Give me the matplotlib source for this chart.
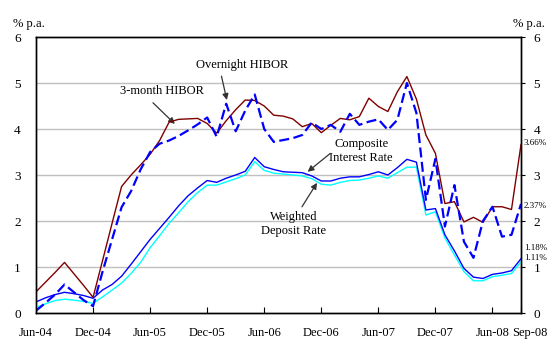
import matplotlib
matplotlib.use("Agg")
import matplotlib.pyplot as plt
import matplotlib.transforms as mtransforms
import numpy as np

months = ["Jun-04","Jul-04","Aug-04","Sep-04","Oct-04","Nov-04","Dec-04",
          "Jan-05","Feb-05","Mar-05","Apr-05","May-05","Jun-05","Jul-05","Aug-05","Sep-05","Oct-05","Nov-05","Dec-05",
          "Jan-06","Feb-06","Mar-06","Apr-06","May-06","Jun-06","Jul-06","Aug-06","Sep-06","Oct-06","Nov-06","Dec-06",
          "Jan-07","Feb-07","Mar-07","Apr-07","May-07","Jun-07","Jul-07","Aug-07","Sep-07","Oct-07","Nov-07","Dec-07",
          "Jan-08","Feb-08","Mar-08","Apr-08","May-08","Jun-08","Jul-08","Aug-08","Sep-08"]

hibor_3m = [0.46,0.67,0.88,1.10,0.85,0.60,0.34,
            1.14,1.95,2.75,3.00,3.22,3.45,3.75,4.15,4.21,4.22,4.23,4.12,
            3.91,4.18,4.42,4.63,4.62,4.50,4.30,4.28,4.22,4.05,4.12,3.92,
            4.08,4.23,4.20,4.27,4.67,4.49,4.38,4.81,5.14,4.65,3.87,3.47,
            2.38,2.42,1.98,2.08,1.97,2.31,2.31,2.25,3.66]

hibor_on = [0.05,0.22,0.40,0.62,0.45,0.28,0.15,
            0.90,1.60,2.30,2.65,3.12,3.50,3.68,3.75,3.85,3.97,4.10,4.25,
            3.83,4.55,3.95,4.40,4.75,4.00,3.72,3.76,3.80,3.87,4.14,4.00,
            4.09,3.94,4.33,4.09,4.16,4.21,3.98,4.20,5.00,4.35,2.46,3.35,
            1.88,2.78,1.55,1.20,2.00,2.31,1.66,1.70,2.37]

composite = [0.24,0.33,0.40,0.45,0.42,0.38,0.32,
             0.50,0.62,0.80,1.06,1.33,1.60,1.84,2.08,2.33,2.55,2.72,2.88,
             2.84,2.93,3.00,3.08,3.38,3.18,3.12,3.07,3.06,3.05,2.98,2.87,
             2.87,2.93,2.96,2.96,3.01,3.07,3.00,3.16,3.34,3.28,2.24,2.27,
             1.70,1.35,0.97,0.78,0.75,0.84,0.87,0.92,1.18]

deposit = [0.12,0.20,0.27,0.30,0.28,0.25,0.21,
           0.35,0.50,0.65,0.86,1.10,1.42,1.68,1.95,2.18,2.42,2.62,2.78,
           2.78,2.85,2.92,3.00,3.29,3.10,3.04,3.02,3.00,2.98,2.92,2.80,
           2.78,2.84,2.88,2.89,2.93,2.98,2.93,3.05,3.17,3.17,2.13,2.20,
           1.63,1.26,0.90,0.70,0.70,0.79,0.82,0.86,1.11]

tick_labels = ["Jun-04","Dec-04","Jun-05","Dec-05","Jun-06","Dec-06","Jun-07","Dec-07","Jun-08","Sep-08"]
end_labels = ["3.66%", "2.37%", "1.18%", "1.11%"]
end_label_y = [3.69, 2.33, 1.42, 1.19]

x = np.arange(len(months))
tick_pos = [months.index(t) for t in tick_labels]

plt.rcParams['font.family'] = ['Liberation Serif', 'DejaVu Serif']

fig = plt.figure(figsize=(5.6, 3.49), dpi=100)
ax = fig.add_axes([36/560, 1-313/349, (521-36)/560, (313-37)/349])

ax.plot(x, deposit, color='#00FFFF', lw=1.0, zorder=3)
ax.plot(x, composite, color='#0000FF', lw=1.0, zorder=4)
ax.plot(x, hibor_3m, color='#800000', lw=1.0, zorder=5)
ax.plot(x, hibor_on, color='#0000FF', lw=1.6, dashes=(4.5, 2), zorder=6)

ax.set_xlim(0, len(months)-1)
ax.set_ylim(0, 6)
ax.set_yticks(range(0, 7))
ax.set_yticklabels([str(v) for v in range(0, 7)])
for yv in range(1, 6):
    ax.axhline(yv, color='#C0C0C0', lw=1.0, zorder=1)

ax.set_xticks(tick_pos)
ax.set_xticklabels(tick_labels[:-1] + [""])
ax.tick_params(axis='x', direction='in', length=4, pad=10, labelsize=9)
ax.tick_params(axis='y', direction='in', length=0, pad=11, labelsize=9.5)
for sp in ax.spines.values():
    sp.set_linewidth(1.0)

# last x label, nudged right as in the reference
lab_tr = ax.get_xaxis_transform() + mtransforms.ScaledTranslation(9/100, -10/72, fig.dpi_scale_trans)
ax.text(tick_pos[-1], 0, tick_labels[-1], transform=lab_tr, fontsize=9, ha='center', va='top')

ax2 = ax.twinx()
ax2.set_ylim(0, 6)
ax2.set_yticks(range(0, 7))
ax2.set_yticklabels([str(v) for v in range(0, 7)])
ax2.tick_params(axis='y', direction='out', length=3, pad=6, labelsize=9.5)
for sp in ax2.spines.values():
    sp.set_linewidth(1.0)

fig.text(13/560, 1-24/349, "% p.a.", fontsize=9, ha='left', va='center')
fig.text(513/560, 1-24/349, "% p.a.", fontsize=9, ha='left', va='center')

for lab, yv in zip(end_labels, end_label_y):
    ax.annotate(lab, xy=(len(months)-1, yv), xytext=(2, 0), textcoords='offset points',
                fontsize=6.5, ha='left', va='center', annotation_clip=False)

arrow = dict(arrowstyle='-|>', color='#333333', lw=0.9, mutation_scale=9, shrinkA=0, shrinkB=0)

ax.text(21.7, 5.39, "Overnight HIBOR", fontsize=9, ha='center', va='center')
ax.annotate("", xy=(20.07, 4.63), xytext=(19.5, 5.15), arrowprops=arrow)

ax.text(13.26, 4.83, "3-month HIBOR", fontsize=9, ha='center', va='center')
ax.annotate("", xy=(14.6, 4.11), xytext=(12.3, 4.57), arrowprops=arrow)

ax.text(34.2, 3.52, "Composite\nInterest Rate", fontsize=9, ha='center', va='center', linespacing=1.25)
ax.annotate("", xy=(28.56, 3.07), xytext=(30.95, 3.47), arrowprops=arrow)

ax.text(27.05, 1.93, "Weighted\nDeposit Rate", fontsize=9, ha='center', va='center', linespacing=1.25)
ax.annotate("", xy=(29.55, 2.83), xytext=(27.97, 2.31), arrowprops=arrow)

fig.savefig("out.png", dpi=100)
